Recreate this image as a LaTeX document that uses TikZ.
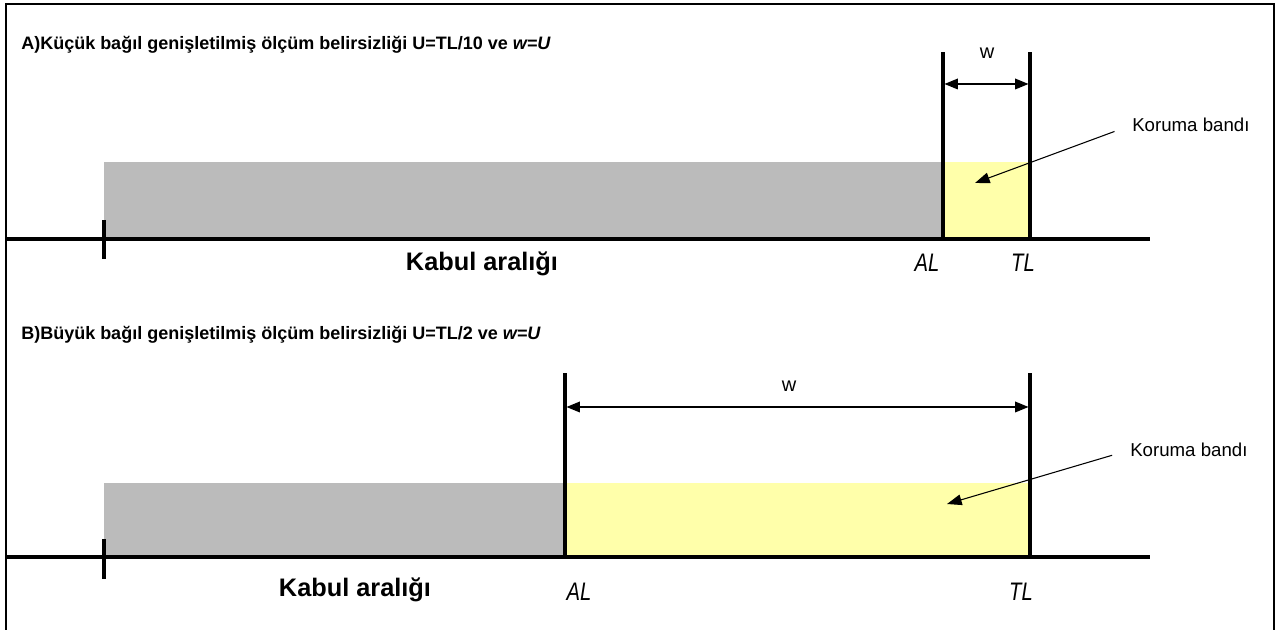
\documentclass[tikz,border=0pt]{standalone}
\usepackage{fontspec}
\setmainfont{Liberation Sans}
\newfontfamily\limitfont[FakeStretch=0.8]{Liberation Sans}
\usetikzlibrary{arrows.meta,positioning}
\definecolor{accgray}{RGB}{187,187,187}
\definecolor{guardyellow}{RGB}{255,255,170}

\begin{document}
\begin{tikzpicture}[x=0.75pt, y=-0.75pt,
  axis/.style={line width=2.3pt},
  limit/.style={line width=2.3pt},
  title/.style={anchor=west, inner sep=0pt, font=\fontsize{13.5}{16}\selectfont\bfseries},
  lbl/.style={inner sep=0pt, font=\limitfont\itshape\fontsize{19}{22}\selectfont},
  kabul/.style={inner sep=0pt, font=\fontsize{19}{22}\selectfont\bfseries},
  band/.style={anchor=west, inner sep=0pt, font=\fontsize{14}{16}\selectfont},
  wlbl/.style={inner sep=0pt, font=\fontsize{15}{17}\selectfont},
  dim/.style={{Triangle[length=10pt,width=8pt]}-{Triangle[length=10pt,width=8pt]}, line width=0.9pt},
  arr/.style={-{Triangle[length=11pt,width=8pt]}, line width=0.8pt, shorten <=14pt}
]
\useasboundingbox (0,0) rectangle (1283,630);
\draw[line width=1.6pt] (6,632) -- (6,4) -- (1274,4) -- (1274,632);

% A) small uncertainty
\node[title] (titleA) at (21,45) {A)Küçük bağıl genişletilmiş ölçüm belirsizliği U=TL/10 ve \textit{w=U}};
\fill[accgray] (104,162) rectangle (943,239);
\fill[guardyellow] (943,162) rectangle (1030,239);
\coordinate (axA0) at (6,239);
\coordinate (axA1) at (1150,239);
\coordinate (tickA0) at (104,220);
\coordinate (tickA1) at (104,259);
\coordinate (alA) at (943,239);
\coordinate (alAtop) at (943,52);
\coordinate (tlA) at (1030,239);
\coordinate (tlAtop) at (1030,52);
\draw[axis] (axA0) -- (axA1);
\draw[axis] (tickA0) -- (tickA1);
\draw[limit] (alA) -- (alAtop);
\draw[limit] (tlA) -- (tlAtop);
\coordinate (wA0) at (944.5,84);
\coordinate (wA1) at (1028.5,84);
\draw[dim] (wA0) -- (wA1);
\node[wlbl] (wlblA) at (987,53) {w};
\node[band] (koruA) at (1132,125) {Koruma bandı};
\coordinate (tipA) at (975,183);
\draw[arr] (koruA.west) -- (tipA);
\node[kabul] (kabulA) at (482,264) {Kabul aralığı};
\node[lbl] (alblA) at (927,263) {AL};
\node[lbl] (tlblA) at (1023,263) {TL};

% B) large uncertainty
\node[title] (titleB) at (21,335) {B)Büyük bağıl genişletilmiş ölçüm belirsizliği U=TL/2 ve \textit{w=U}};
\fill[accgray] (104,483) rectangle (565,557);
\fill[guardyellow] (565,483) rectangle (1030,557);
\coordinate (axB0) at (6,557);
\coordinate (axB1) at (1150,557);
\coordinate (tickB0) at (104,539);
\coordinate (tickB1) at (104,579);
\coordinate (alB) at (565,557);
\coordinate (alBtop) at (565,373);
\coordinate (tlB) at (1030,557);
\coordinate (tlBtop) at (1030,373);
\draw[axis] (axB0) -- (axB1);
\draw[axis] (tickB0) -- (tickB1);
\draw[limit] (alB) -- (alBtop);
\draw[limit] (tlB) -- (tlBtop);
\coordinate (wB0) at (566.5,407);
\coordinate (wB1) at (1028.5,407);
\draw[dim] (wB0) -- (wB1);
\node[wlbl] (wlblB) at (789,386) {w};
\node[band] (koruB) at (1130,450) {Koruma bandı};
\coordinate (tipB) at (947,504);
\draw[arr] (koruB.west) -- (tipB);
\node[kabul] (kabulB) at (355,590) {Kabul aralığı};
\node[lbl] (alblB) at (579,592) {AL};
\node[lbl] (tlblB) at (1021,592) {TL};
\end{tikzpicture}
\end{document}
